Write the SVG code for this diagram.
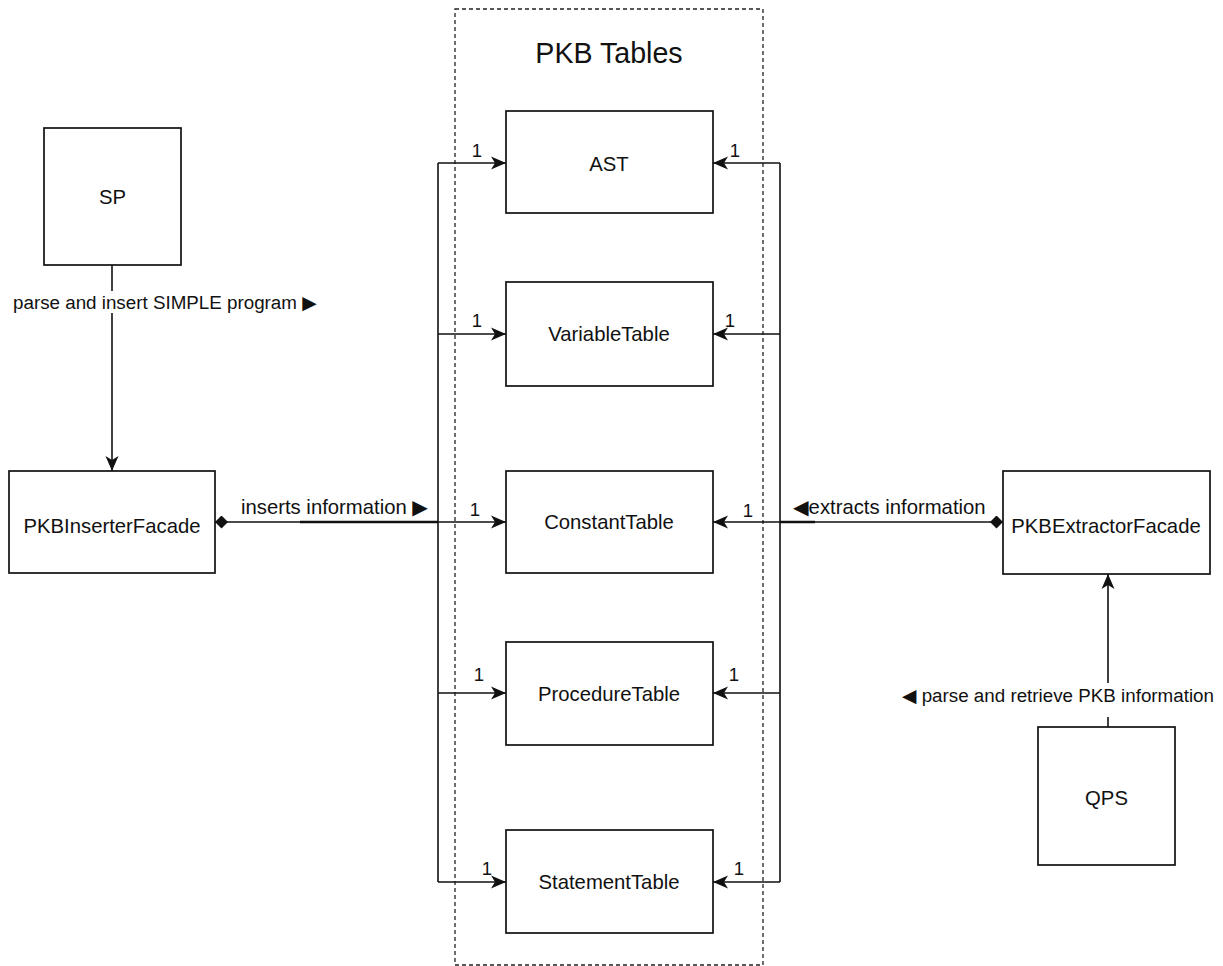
<svg xmlns="http://www.w3.org/2000/svg" width="1223" height="966" viewBox="0 0 1223 966">
  <style>
    .box { fill: #ffffff; stroke: #111111; stroke-width: 1.7; }
    .group { fill: none; stroke: #222222; stroke-width: 1.3; stroke-dasharray: 4 3; }
    .wire { fill: none; stroke: #111111; stroke-width: 1.6; }
    .thick { fill: none; stroke: #111111; stroke-width: 2.6; }
    .lbl { font-family: "Liberation Sans", Arial, Helvetica, sans-serif; fill: #111111; }
    .node { font-size: 20.3px; text-anchor: middle; }
    .edge { font-size: 20.3px; }
    .small { font-size: 18.8px; }
    .mult { font-size: 18.5px; text-anchor: middle; }
    .sym { font-family: "DejaVu Sans", "Liberation Sans", sans-serif; }
  </style>
  <defs>
    <marker id="arrow" markerUnits="userSpaceOnUse" markerWidth="16" markerHeight="14" refX="15" refY="7" orient="auto">
      <path d="M0,0.5 L15,7 L0,13.5 L4,7 Z" fill="#111111"/>
    </marker>
    <marker id="diamond" markerUnits="userSpaceOnUse" markerWidth="14" markerHeight="13" refX="0" refY="6.5" orient="auto">
      <path d="M0,6.5 L6.5,0 L13,6.5 L6.5,13 Z" fill="#111111"/>
    </marker>
  </defs>

  <!-- table container -->
  <g id="pkb-tables">
    <rect class="group" x="455" y="9" width="308" height="956"/>
    <text class="lbl" x="609" y="63" font-size="28.6" text-anchor="middle">PKB Tables</text>
  </g>

  <!-- connectors -->
  <g id="connectors">
    <!-- SP to inserter -->
    <path class="wire" d="M112,265 V291"/>
    <path class="wire" d="M112,313 V471" marker-end="url(#arrow)"/>
    <!-- QPS to extractor -->
    <path class="wire" d="M1108,727 V717"/>
    <path class="wire" d="M1108,683 V574" marker-end="url(#arrow)"/>

    <!-- inserter bus -->
    <path class="wire" d="M215,522 H438" marker-start="url(#diamond)"/>
    <path class="thick" d="M300,522 H438"/>
    <path class="wire" d="M438,163 V882"/>
    <path class="wire" d="M438,163 H506" marker-end="url(#arrow)"/>
    <path class="wire" d="M438,334 H506" marker-end="url(#arrow)"/>
    <path class="wire" d="M438,522 H506" marker-end="url(#arrow)"/>
    <path class="wire" d="M438,693 H506" marker-end="url(#arrow)"/>
    <path class="wire" d="M438,882 H506" marker-end="url(#arrow)"/>

    <!-- extractor bus -->
    <path class="wire" d="M1003,522 H780" marker-start="url(#diamond)"/>
    <path class="thick" d="M780,522 H815"/>
    <path class="wire" d="M780,163 V882"/>
    <path class="wire" d="M780,163 H713" marker-end="url(#arrow)"/>
    <path class="wire" d="M780,334 H713" marker-end="url(#arrow)"/>
    <path class="wire" d="M780,522 H713" marker-end="url(#arrow)"/>
    <path class="wire" d="M780,693 H713" marker-end="url(#arrow)"/>
    <path class="wire" d="M780,882 H713" marker-end="url(#arrow)"/>

    <!-- edge labels -->
    <text class="lbl small" x="13" y="309">parse and insert SIMPLE program <tspan class="sym">▶︎</tspan></text>
    <text class="lbl small" x="902" y="702"><tspan class="sym">◀︎</tspan> parse and retrieve PKB information</text>
    <text class="lbl edge" x="241" y="514">inserts information <tspan class="sym">▶︎</tspan></text>
    <text class="lbl edge" x="793" y="514"><tspan class="sym">◀︎</tspan>extracts information</text>

    <!-- multiplicities -->
    <text class="lbl mult" x="477" y="157">1</text>
    <text class="lbl mult" x="735" y="157">1</text>
    <text class="lbl mult" x="477" y="327">1</text>
    <text class="lbl mult" x="730" y="327">1</text>
    <text class="lbl mult" x="475" y="516">1</text>
    <text class="lbl mult" x="748" y="517">1</text>
    <text class="lbl mult" x="479" y="681">1</text>
    <text class="lbl mult" x="734" y="681">1</text>
    <text class="lbl mult" x="487" y="875">1</text>
    <text class="lbl mult" x="739" y="875">1</text>
  </g>

  <g id="sp">
    <rect class="box" x="44" y="128" width="137" height="137"/>
    <text class="lbl node" x="112.5" y="204">SP</text>
  </g>
  <g id="pkb-inserter-facade">
    <rect class="box" x="9" y="471" width="206" height="102"/>
    <text class="lbl node" x="112" y="533">PKBInserterFacade</text>
  </g>
  <g id="pkb-extractor-facade">
    <rect class="box" x="1003" y="471" width="207" height="103"/>
    <text class="lbl node" x="1106" y="533">PKBExtractorFacade</text>
  </g>
  <g id="qps">
    <rect class="box" x="1038" y="727" width="137" height="138"/>
    <text class="lbl node" x="1106.5" y="805">QPS</text>
  </g>
  <g id="ast">
    <rect class="box" x="506" y="111" width="207" height="102"/>
    <text class="lbl node" x="609" y="171">AST</text>
  </g>
  <g id="variable-table">
    <rect class="box" x="506" y="282" width="207" height="104"/>
    <text class="lbl node" x="609" y="341">VariableTable</text>
  </g>
  <g id="constant-table">
    <rect class="box" x="506" y="471" width="207" height="102"/>
    <text class="lbl node" x="609" y="529">ConstantTable</text>
  </g>
  <g id="procedure-table">
    <rect class="box" x="506" y="642" width="207" height="103"/>
    <text class="lbl node" x="609" y="701">ProcedureTable</text>
  </g>
  <g id="statement-table">
    <rect class="box" x="506" y="830" width="207" height="103"/>
    <text class="lbl node" x="609" y="889">StatementTable</text>
  </g>
</svg>
